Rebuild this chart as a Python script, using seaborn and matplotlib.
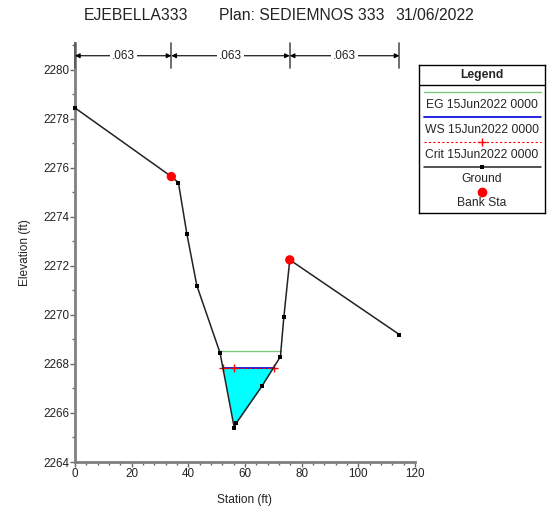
import numpy as np
import matplotlib
matplotlib.use("Agg")
import matplotlib.pyplot as plt
from matplotlib.ticker import MultipleLocator
import pandas as pd
import seaborn as sns

# Cross-section geometry
station = [0.0, 34.0, 36.5, 39.5, 43.0, 51.2, 56.2, 57.0, 66.0, 72.5, 73.7, 75.8, 114.5]
elevation = [2278.45, 2275.65, 2275.4, 2273.3, 2271.2, 2268.45, 2265.4, 2265.6,
             2267.1, 2268.3, 2269.9, 2272.25, 2269.2]
bank_sta = [34.0, 75.8]
bank_elev = [2275.65, 2272.25]

# Water levels for profile 15Jun2022 0000
ws_elev = 2267.85
eg_elev = 2268.55
crit_elev = 2267.85

# Manning's n per reach between bank stations
n_values = [".063", ".063", ".063"]
n_breaks = [0.0, 34.0, 75.8, 114.5]

title_river = "EJEBELLA333"
title_plan = "Plan: SEDIEMNOS 333"
title_date = "31/06/2022"

sns.set_style("ticks")
plt.rcParams["font.family"] = ["Liberation Sans", "DejaVu Sans"]

ground = pd.DataFrame({"Station": station, "Elevation": elevation})
banks = pd.DataFrame({"Station": bank_sta, "Elevation": bank_elev})

sta = np.array(station)
elev = np.array(elevation)
low = int(np.argmin(elev))


def crossings(level):
    """Stations where the ground meets a water level on each side of the thalweg."""
    left = None
    for i in range(low, 0, -1):
        if elev[i - 1] >= level >= elev[i]:
            left = sta[i] + (level - elev[i]) * (sta[i - 1] - sta[i]) / (elev[i - 1] - elev[i])
            break
    right = None
    for i in range(low, len(sta) - 1):
        if elev[i] <= level <= elev[i + 1]:
            right = sta[i] + (level - elev[i]) * (sta[i + 1] - sta[i]) / (elev[i + 1] - elev[i])
            break
    return left, right


fig = plt.figure(figsize=(5.52, 5.11), dpi=100)
ax = fig.add_axes([75 / 552, 1 - 462 / 511, 340 / 552, 419 / 511])

# Wetted area
wl, wr = crossings(ws_elev)
inner = (sta > wl) & (sta < wr)
fx = np.concatenate([[wl], sta[inner], [wr]])
fy = np.concatenate([[ws_elev], elev[inner], [ws_elev]])
ax.fill_between(fx, fy, ws_elev, color="#00FFFF", lw=0, zorder=1)

# Energy grade line
el, er = crossings(eg_elev)
ax.plot([el, er], [eg_elev, eg_elev], color="#7CC87C", lw=1.0, zorder=2)

# Water surface
ax.plot([wl, wr], [ws_elev, ws_elev], color="#0000DD", lw=1.2, zorder=3)

# Critical depth
cl, cr = crossings(crit_elev)
ax.plot([cl, cr], [crit_elev, crit_elev], color="red", lw=0.8, ls=(0, (2, 2)), zorder=4)
ax.plot([cl, sta[low], cr], [crit_elev] * 3, ls="none", marker="+", ms=6, mew=1.0,
        color="red", zorder=4)

# Ground and bank stations
sns.lineplot(data=ground, x="Station", y="Elevation", ax=ax, color="#222222", lw=1.1,
             marker="s", markersize=3.5, markeredgewidth=0, markerfacecolor="black",
             sort=False, estimator=None, clip_on=False, zorder=5)
sns.scatterplot(data=banks, x="Station", y="Elevation", ax=ax, color="red", s=45,
                edgecolor="none", zorder=6, clip_on=False)

ax.set_xlim(0, 120)
ax.set_ylim(2264, 2281.1)
ax.xaxis.set_major_locator(MultipleLocator(20))
ax.xaxis.set_minor_locator(MultipleLocator(4))
ax.yaxis.set_major_locator(MultipleLocator(2))
ax.yaxis.set_minor_locator(MultipleLocator(1))
ax.set_yticks(np.arange(2264, 2281, 2))
for side in ("top", "right"):
    ax.spines[side].set_visible(False)
for side in ("left", "bottom"):
    ax.spines[side].set_color("#808080")
    ax.spines[side].set_linewidth(2.0)
ax.tick_params(which="major", length=3.5, width=1, color="#666666", labelsize=8.4,
               labelcolor="#222222", pad=0.8)
ax.tick_params(which="minor", length=2.5, width=1, color="#666666")
ax.set_xlabel("Station (ft)", fontsize=8.6, color="#222222", labelpad=10)
ax.set_ylabel("Elevation (ft)", fontsize=8.6, color="#222222", labelpad=9)

# Manning's n bracket above the section
y_arrow = 2280.58
for xb in n_breaks:
    ax.plot([xb, xb], [2280.08, 2281.1], color="#555555", lw=1.2, clip_on=False, zorder=7)
for (x0, x1), label in zip(zip(n_breaks[:-1], n_breaks[1:]), n_values):
    ax.annotate("", xy=(x0, y_arrow), xytext=(x1, y_arrow),
                arrowprops=dict(arrowstyle="<|-|>", color="black", lw=0.8,
                                mutation_scale=7, shrinkA=0, shrinkB=0),
                annotation_clip=False, zorder=7)
    ax.text((x0 + x1) / 2, y_arrow, label, ha="center", va="center", fontsize=8.5,
            color="#222222", zorder=8, clip_on=False,
            bbox=dict(facecolor="white", edgecolor="none", pad=1.5))

# Title
ty = 1 - 15 / 511
fig.text(84 / 552, ty, title_river, fontsize=11.3, ha="left", va="center", color="#222222")
fig.text(219 / 552, ty, title_plan, fontsize=11.3, ha="left", va="center", color="#222222")
fig.text(395 / 552, ty, title_date, fontsize=11.3, ha="left", va="center", color="#222222")

# Legend panel
lg = fig.add_axes([419 / 552, 1 - 213 / 511, 126 / 552, 148 / 511])
lg.set_xlim(0, 126)
lg.set_ylim(148, 0)
lg.set_xticks([])
lg.set_yticks([])
for s in lg.spines.values():
    s.set_color("black")
    s.set_linewidth(1.0)
fs = 8.7
lg.text(63, 10, "Legend", ha="center", va="center", fontsize=fs, fontweight="bold")
lg.plot([0, 126], [20, 20], color="black", lw=1.0)
x0, x1 = 5, 122
lg.plot([x0, x1], [27, 27], color="#7CC87C", lw=1.0)
lg.text(63, 39.5, "EG 15Jun2022 0000", ha="center", va="center", fontsize=fs)
lg.plot([x0, x1], [52, 52], color="#0000DD", lw=1.2)
lg.text(63, 65, "WS 15Jun2022 0000", ha="center", va="center", fontsize=fs)
lg.plot([x0, x1], [77, 77], color="red", lw=0.8, ls=(0, (2, 2)))
lg.plot([63], [77], marker="+", color="red", ms=6, mew=1.0)
lg.text(63, 89.5, "Crit 15Jun2022 0000", ha="center", va="center", fontsize=fs)
lg.plot([x0, x1], [102, 102], color="#222222", lw=1.1)
lg.plot([63], [102], marker="s", color="black", ms=3.5, mew=0)
lg.text(63, 113.5, "Ground", ha="center", va="center", fontsize=fs)
lg.plot([63], [127], marker="o", color="red", ms=7, mew=0)
lg.text(63, 138.5, "Bank Sta", ha="center", va="center", fontsize=fs)

fig.savefig("out.png", dpi=100)
